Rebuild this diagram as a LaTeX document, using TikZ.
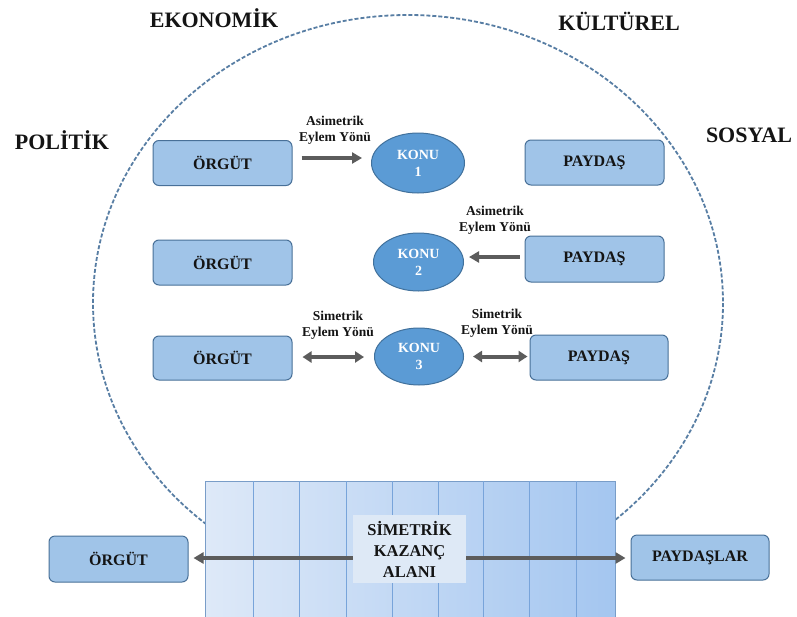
\documentclass[tikz,border=0pt]{standalone}
\usepackage{fontspec}
\setmainfont{Liberation Serif}
\usetikzlibrary{shapes.geometric,arrows.meta}
\definecolor{boxfill}{RGB}{160,196,232}
\definecolor{boxline}{RGB}{72,112,152}
\definecolor{ellfill}{RGB}{91,155,213}
\definecolor{ellline}{RGB}{65,113,156}
\definecolor{arrowgray}{RGB}{92,92,92}
\definecolor{ringcol}{RGB}{88,126,164}
\definecolor{fieldleft}{RGB}{222,233,248}
\definecolor{fieldright}{RGB}{164,198,240}
\definecolor{colline}{RGB}{120,164,218}
\definecolor{labfill}{RGB}{222,233,246}
\definecolor{txt}{RGB}{20,20,20}
\tikzset{
  box/.style={draw=boxline, fill=boxfill, line width=1pt, rounded corners=6pt,
    minimum width=139pt, minimum height=45pt, inner sep=0pt, text=txt,
    font=\bfseries\fontsize{16}{18}\selectfont},
  topic/.style={ellipse, draw=ellline, fill=ellfill, line width=1pt, inner sep=0pt,
    text=white, align=center, font=\bfseries\fontsize{14}{17}\selectfont},
  actlabel/.style={align=center, text=txt, inner sep=0pt,
    font=\bfseries\fontsize{13.5}{16}\selectfont},
  field/.style={font=\bfseries\fontsize{22}{25}\selectfont, text=txt, inner sep=0pt},
  conn/.style={draw=arrowgray, line width=4pt, -{Triangle[length=10pt,width=11pt]}},
  conn2/.style={draw=arrowgray, line width=4pt, {Triangle[length=9pt,width=11pt]}-{Triangle[length=9pt,width=11pt]}},
  ring/.style={draw=ringcol, line width=1.8pt, dash pattern=on 4pt off 2pt},
  gainfield/.style={draw=colline!80!gray, line width=0.8pt, left color=fieldleft, right color=fieldright,
    minimum width=410pt, minimum height=160pt, inner sep=0pt},
  gainlabel/.style={fill=labfill, minimum width=113pt, minimum height=68pt, inner sep=0pt,
    align=center, text=txt, font=\bfseries\fontsize{16.5}{21}\selectfont}
}
\begin{document}
\begin{tikzpicture}[x=1pt,y=-1pt]
\useasboundingbox (0,0) rectangle (797,616);
\clip (0,0) rectangle (797,616);
\fill[white] (0,0) rectangle (797,616);
% dashed ring
\draw[ring] (408,303) ellipse [x radius=315, y radius=288];
% field texts
\node[field] (eko) at (214,18.5) {EKONOMİK};
\node[field] (kul) at (619,21) {KÜLTÜREL};
\node[field] (pol) at (62,140) {POLİTİK};
\node[field] (sos) at (749,135) {SOSYAL};
% row 1
\node[box] (org1) at (222.5,163) {ÖRGÜT};
\node[topic, minimum width=93pt, minimum height=60pt] (konu1) at (418,163) {KONU\\1};
\node[box] (pay1) at (594.5,162.5) {PAYDAŞ};
\node[actlabel] (lab1) at (335,130) {Asimetrik\\Eylem Yönü};
% row 2
\node[box] (org2) at (222.5,262.5) {ÖRGÜT};
\node[topic, minimum width=90pt, minimum height=58pt] (konu2) at (418.5,262) {KONU\\2};
\node[box, minimum height=46pt] (pay2) at (594.5,259) {PAYDAŞ};
\node[actlabel] (lab2) at (495,220.5) {Asimetrik\\Eylem Yönü};
% row 3
\node[box, minimum height=44pt] (org3) at (222.5,358) {ÖRGÜT};
\node[topic, minimum width=89pt, minimum height=57pt] (konu3) at (419,356.5) {KONU\\3};
\node[box, minimum width=138pt] (pay3) at (599,357.5) {PAYDAŞ};
\node[actlabel] (lab3a) at (338,325.5) {Simetrik\\Eylem Yönü};
\node[actlabel] (lab3b) at (497,323) {Simetrik\\Eylem Yönü};
% connectors rows
\draw[conn, shorten <=9pt, shorten >=9pt] ([yshift=5pt]org1.east) -- ([yshift=5pt]konu1.west);
\draw[conn, shorten <=5pt, shorten >=5pt] ([yshift=2pt]pay2.west) -- ([yshift=5pt]konu2.east);
\draw[conn2, shorten <=10pt, shorten >=10pt] ([yshift=1pt]org3.east) -- ([yshift=1pt]org3.east -| konu3.west);
\draw[conn2, shorten <=9pt, shorten >=2pt] (konu3.east) -- (konu3.east -| pay3.west);
% bottom field
\node[gainfield] (gain) at (410,561) {};
\foreach \cx in {253,299,346,392,438,483,529,576}
  \draw[colline, line width=1pt] (\cx,481) -- (\cx,641);
\node[gainlabel] (kazanc) at (409.5,549) {SİMETRİK\\KAZANÇ\\ALANI};
\node[box, minimum height=46pt] (orgB) at (118.5,559) {ÖRGÜT};
\node[box, minimum width=138pt] (payB) at (700,557.5) {PAYDAŞLAR};
\draw[conn, shorten >=5pt] ([yshift=-9pt]kazanc.west) -- ([yshift=-9pt]kazanc.west -| orgB.east);
\draw[conn, shorten >=5pt] ([yshift=-9pt]kazanc.east) -- ([yshift=-9pt]kazanc.east -| payB.west);
\end{tikzpicture}
\end{document}
